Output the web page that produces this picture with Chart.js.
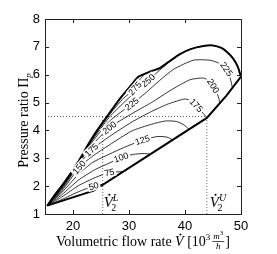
<!DOCTYPE html>
<html>
<head>
<meta charset="utf-8">
<script src="https://cdn.jsdelivr.net/npm/chart.js@4.4.0/dist/chart.umd.min.js"></script>
<style>
  html, body { margin: 0; padding: 0; background: #fff; }
  #wrap { width: 277px; height: 254px; }
</style>
</head>
<body>
<div id="wrap"><canvas id="mapChart" width="277" height="254"></canvas></div>
<script>
// axis ticks
const xTicks = [20, 30, 40, 50];
const yTicks = [1, 2, 3, 4, 5, 6, 7, 8];

// operating limits (dotted lines)
const v2L = 25.3;
const v2U = 43.9;
const piOp = 4.5;

// map boundary
const lowerEdge = [[15.4,1.3],[23.7,1.84],[43.9,4.45],[47.4,5.25],[50,5.93]];
const upperEdge = [[15.4,1.3],[16.5,1.62],[18.4,2.12],[20.8,2.83],[22.5,3.42],[24.3,4.0],[26.6,4.65],[28.5,5.17],[30.5,5.65],[31.7,5.93],[33.75,6.11],[35.5,6.24],[37,6.45],[39.1,6.74],[41,6.92],[43.3,7.03],[45,7.05],[46.5,6.96],[47.6,6.8],[48.6,6.58],[49.4,6.3],[50,5.93]];

// speed contours
const c50  = [[15.4,1.3],[18,1.52],[21,1.8],[23.7,2.0],[25.4,2.07]];
const c75  = [[15.4,1.3],[18,1.61],[21,2.02],[24,2.31],[26.5,2.49],[28.9,2.52]];
const c100 = [[15.4,1.3],[18,1.69],[21,2.22],[24,2.6],[26.5,2.83],[28.6,3.03],[30.8,3.14],[32.5,3.17],[33.9,3.15]];
const c125 = [[15.4,1.3],[18,1.77],[21,2.43],[23.5,2.85],[26.5,3.15],[29,3.38],[32.4,3.65],[35,3.78],[36.8,3.76],[37.8,3.66]];
const c150 = [[15.4,1.3],[18,1.83],[21.1,2.67],[23.3,3.05],[26.5,3.48],[30.5,3.98],[34,4.22],[36.5,4.34],[38.5,4.32],[39.8,4.2],[40.7,4.04]];
const c175 = [[15.4,1.3],[18,1.88],[21,2.76],[23.3,3.3],[26.5,3.78],[30.5,4.3],[34,4.68],[37,4.95],[40,5.13],[41.2,5.05],[42,4.9],[43.2,4.62],[43.9,4.46]];
const c200 = [[15.4,1.3],[18,1.92],[21,2.81],[23.3,3.45],[26.5,4.1],[30.5,4.6],[34,5.0],[37.5,5.45],[40.9,5.82],[43.3,5.88],[44.5,5.75],[45.05,5.6],[45.7,5.35],[46.1,5.1],[46.2,4.96]];
const c225 = [[15.4,1.3],[18,1.95],[21,2.84],[23.3,3.55],[26.5,4.33],[30.5,4.95],[33,5.35],[35.5,5.8],[38,6.2],[41.5,6.52],[44.5,6.52],[46.2,6.4],[47.4,6.2],[48.1,5.85],[48.5,5.5]];
const c250 = [[15.4,1.3],[18,1.97],[21,2.86],[23.3,3.6],[26.5,4.48],[29.5,5.08],[31.5,5.45],[33.4,5.79],[35,6.08],[37,6.42]];
const c275 = [[15.4,1.3],[18,1.99],[21,2.88],[23.3,3.64],[26.5,4.56],[29,5.15],[31.07,5.51],[31.9,5.82],[32.6,5.98]];

const levels = [50, 75, 100, 125, 150, 175, 200, 225, 250, 275];
const contours = [c50, c75, c100, c125, c150, c175, c200, c225, c250, c275];

// inline contour labels
const labelLevels = [50, 75, 100, 125, 150, 175, 200, 225, 250, 275, 175, 200, 225];
const labelX = [23.7, 26.5, 28.6, 32.4, 21.1, 23.3, 26.5, 30.5, 33.4, 31.07, 42.0, 45.05, 47.4];
const labelY = [2.0, 2.49, 3.03, 3.65, 2.67, 3.3, 4.1, 4.95, 5.79, 5.51, 4.9, 5.6, 6.2];

const SERIF = '"Liberation Serif", "DejaVu Serif", serif';
const SANS = '"Liberation Sans", Arial, sans-serif';

const toPts = arr => arr.map(p => ({ x: p[0], y: p[1] }));

const datasets = [];
datasets.push({ data: toPts(lowerEdge), borderColor: '#000', borderWidth: 2, tension: 0, clip: 4 });
datasets.push({ data: toPts(upperEdge), borderColor: '#000', borderWidth: 2, tension: 0.2, clip: 4 });
contours.forEach((c, i) => {
    datasets.push({ label: String(levels[i]), data: toPts(c), borderColor: '#000', borderWidth: 0.8, tension: 0.2 });
});
// dotted operating lines
const dotted = { borderColor: '#666', borderWidth: 1, borderDash: [1, 2], tension: 0 };
datasets.push(Object.assign({ data: [{ x: 15, y: piOp }, { x: v2U, y: piOp }] }, dotted));
datasets.push(Object.assign({ data: [{ x: v2L, y: 1 }, { x: v2L, y: piOp }] }, dotted));
datasets.push(Object.assign({ data: [{ x: v2U, y: 1 }, { x: v2U, y: piOp }] }, dotted));

// V with a dot on top, italic; returns width
function drawVdot(ctx, x, y, size) {
    ctx.font = 'italic ' + size + 'px ' + SERIF;
    ctx.fillText('V', x, y);
    const w = ctx.measureText('V').width;
    ctx.beginPath();
    ctx.arc(x + w * 0.62, y - size * 0.82, size * 0.07, 0, Math.PI * 2);
    ctx.fill();
    return w;
}

function drawVLabel(ctx, x, y, sup) {
    ctx.fillStyle = '#000';
    ctx.textAlign = 'left';
    ctx.textBaseline = 'alphabetic';
    const w = drawVdot(ctx, x, y, 15);
    ctx.font = '10px ' + SERIF;
    ctx.fillText('2', x + w - 1.5, y + 3.5);
    ctx.font = 'italic 10px ' + SERIF;
    ctx.fillText(sup, x + w, y - 6.5);
}

const labelPlugin = {
    id: 'mapDecor',
    afterDatasetsDraw(chart) {
        const ctx = chart.ctx;
        const xs = chart.scales.x, ys = chart.scales.y;
        ctx.save();
        labelLevels.forEach((lev, i) => {
            const c = contours[levels.indexOf(lev)];
            const px = xs.getPixelForValue(labelX[i]);
            const py = ys.getPixelForValue(labelY[i]);
            const pts = c.map(p => [xs.getPixelForValue(p[0]), ys.getPixelForValue(p[1])]);
            let k = 0, best = Infinity;
            pts.forEach((p, j) => {
                const d = (p[0] - px) ** 2 + (p[1] - py) ** 2;
                if (d < best) { best = d; k = j; }
            });
            const a = pts[Math.max(k - 1, 0)], b = pts[Math.min(k + 1, pts.length - 1)];
            let ang = Math.atan2(b[1] - a[1], b[0] - a[0]);
            if (ang > Math.PI / 2) ang -= Math.PI;
            if (ang < -Math.PI / 2) ang += Math.PI;
            ctx.save();
            ctx.translate(px, py);
            ctx.rotate(ang);
            ctx.font = '9px ' + SANS;
            const w = ctx.measureText(String(lev)).width;
            ctx.fillStyle = '#fff';
            ctx.fillRect(-w / 2 - 1.5, -4.5, w + 3, 9);
            ctx.fillStyle = '#000';
            ctx.textAlign = 'center';
            ctx.textBaseline = 'middle';
            ctx.fillText(String(lev), 0, 0.5);
            ctx.restore();
        });
        ctx.restore();
    },
    afterDraw(chart) {
        const ctx = chart.ctx;
        const area = chart.chartArea;
        const xs = chart.scales.x, ys = chart.scales.y;
        ctx.save();
        // box and inward ticks
        ctx.strokeStyle = '#222';
        ctx.lineWidth = 1;
        ctx.strokeRect(Math.round(area.left) + 0.5, Math.round(area.top) + 0.5,
            Math.round(area.right - area.left), Math.round(area.bottom - area.top));
        ctx.beginPath();
        xTicks.forEach(v => {
            const x = Math.round(xs.getPixelForValue(v)) + 0.5;
            ctx.moveTo(x, area.bottom); ctx.lineTo(x, area.bottom - 4);
            ctx.moveTo(x, area.top); ctx.lineTo(x, area.top + 4);
        });
        yTicks.forEach(v => {
            const y = Math.round(ys.getPixelForValue(v)) + 0.5;
            ctx.moveTo(area.left, y); ctx.lineTo(area.left + 4, y);
            ctx.moveTo(area.right, y); ctx.lineTo(area.right - 4, y);
        });
        ctx.stroke();

        // V labels
        drawVLabel(ctx, xs.getPixelForValue(v2L) + 1, 207, 'L');
        drawVLabel(ctx, xs.getPixelForValue(v2U) + 3, 207, 'U');

        // x axis title
        ctx.fillStyle = '#000';
        ctx.textBaseline = 'alphabetic';
        ctx.textAlign = 'left';
        const base = 246;
        ctx.font = '14px ' + SERIF;
        const t1 = 'Volumetric flow rate ';
        const w1 = ctx.measureText(t1).width;
        ctx.font = 'italic 14px ' + SERIF;
        const wV = ctx.measureText('V').width;
        ctx.font = '14px ' + SERIF;
        const t2 = ' [10';
        const w2 = ctx.measureText(t2).width;
        ctx.font = '9px ' + SERIF;
        const w3 = ctx.measureText('3').width;
        ctx.font = 'italic 9px ' + SERIF;
        const wm = ctx.measureText('m').width;
        ctx.font = '7px ' + SERIF;
        const wsup = ctx.measureText('3').width;
        const wFrac = wm + wsup + 2;
        ctx.font = '14px ' + SERIF;
        const wb = ctx.measureText(']').width;
        const total = w1 + wV + w2 + w3 + 2 + wFrac + 1 + wb;
        let x = (area.left + area.right) / 2 - total / 2;
        ctx.fillText(t1, x, base); x += w1;
        drawVdot(ctx, x, base, 14); x += wV;
        ctx.font = '14px ' + SERIF;
        ctx.fillText(t2, x, base); x += w2;
        ctx.font = '9px ' + SERIF;
        ctx.fillText('3', x, base - 6); x += w3 + 2;
        // fraction m^3 / h
        ctx.font = 'italic 9px ' + SERIF;
        ctx.fillText('m', x + 1, base - 7);
        ctx.font = '7px ' + SERIF;
        ctx.fillText('3', x + 1 + wm, base - 11);
        ctx.beginPath();
        ctx.moveTo(x, base - 4.5); ctx.lineTo(x + wFrac, base - 4.5);
        ctx.lineWidth = 0.7; ctx.strokeStyle = '#000'; ctx.stroke();
        ctx.font = 'italic 9px ' + SERIF;
        ctx.textAlign = 'center';
        ctx.fillText('h', x + wFrac / 2, base + 3);
        ctx.textAlign = 'left';
        x += wFrac + 1;
        ctx.font = '14px ' + SERIF;
        ctx.fillText(']', x, base);

        // y axis title
        ctx.save();
        ctx.translate(24, (area.top + area.bottom) / 2 + 4);
        ctx.rotate(-Math.PI / 2);
        ctx.font = '14px ' + SERIF;
        const ty = 'Pressure ratio \u03A0';
        const wy = ctx.measureText(ty).width;
        ctx.font = 'italic 9px ' + SERIF;
        const wp = ctx.measureText('p').width;
        const sx = -(wy + wp) / 2;
        ctx.font = '14px ' + SERIF;
        ctx.fillText(ty, sx, 4);
        ctx.font = 'italic 9px ' + SERIF;
        ctx.fillText('p', sx + wy, 7);
        ctx.restore();

        ctx.restore();
    }
};

new Chart(document.getElementById('mapChart'), {
    type: 'line',
    data: { datasets: datasets },
    options: {
        responsive: false,
        animation: false,
        devicePixelRatio: 1,
        parsing: false,
        elements: { point: { radius: 0 } },
        layout: { padding: { top: 19, right: 36, left: 0, bottom: 0 } },
        plugins: { legend: { display: false }, tooltip: { enabled: false } },
        scales: {
            x: {
                type: 'linear', min: 15, max: 50,
                afterBuildTicks: s => { s.ticks = xTicks.map(v => ({ value: v })); },
                afterFit: s => { s.height = 40; },
                grid: { display: false, drawTicks: false },
                border: { display: false },
                ticks: { color: '#000', padding: 5, maxRotation: 0, font: { family: SANS, size: 13 } }
            },
            y: {
                type: 'linear', min: 1, max: 8,
                afterBuildTicks: s => { s.ticks = yTicks.map(v => ({ value: v })); },
                afterFit: s => { s.width = 45; },
                grid: { display: false, drawTicks: false },
                border: { display: false },
                ticks: { color: '#000', padding: 5, font: { family: SANS, size: 13 } }
            }
        }
    },
    plugins: [labelPlugin]
});
</script>
</body>
</html>
